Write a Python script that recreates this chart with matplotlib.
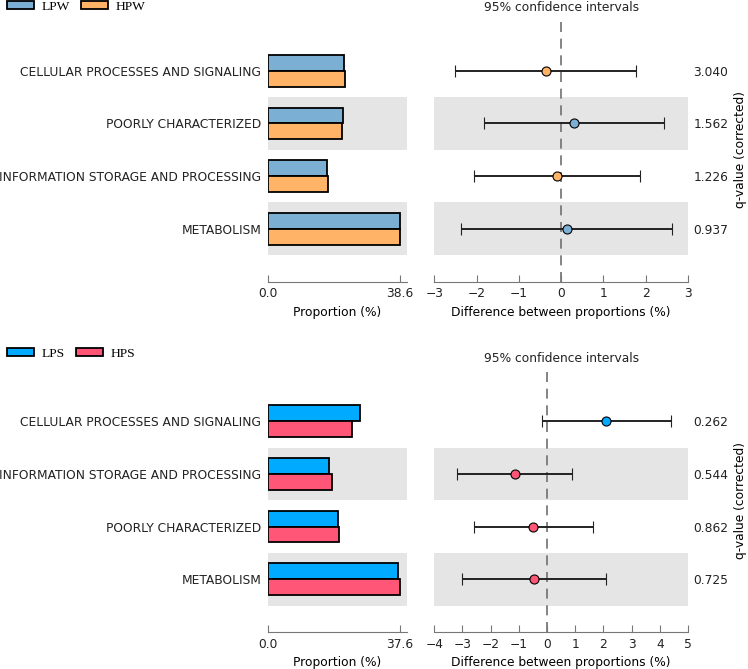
import matplotlib
matplotlib.use('Agg')
import matplotlib.pyplot as plt
from matplotlib.patches import Patch

# panneau du haut : LPW / HPW
cats_w = ['CELLULAR PROCESSES AND SIGNALING', 'POORLY CHARACTERIZED',
          'INFORMATION STORAGE AND PROCESSING', 'METABOLISM']
lpw = [22.2, 21.85, 17.3, 38.6]
hpw = [22.56, 21.54, 17.4, 38.47]
diff_w = [-0.36, 0.31, -0.10, 0.13]
low_w = [-2.51, -1.82, -2.06, -2.37]
high_w = [1.78, 2.44, 1.86, 2.63]
q_w = ['3.040', '1.562', '1.226', '0.937']

# panneau du bas : LPS / HPS
cats_s = ['CELLULAR PROCESSES AND SIGNALING', 'INFORMATION STORAGE AND PROCESSING',
          'POORLY CHARACTERIZED', 'METABOLISM']
lps = [26.1, 17.2, 19.8, 37.1]
hps = [24.0, 18.3, 20.2, 37.6]
diff_s = [2.10, -1.14, -0.49, -0.46]
low_s = [-0.19, -3.18, -2.60, -3.00]
high_s = [4.39, 0.90, 1.62, 2.08]
q_s = ['0.262', '0.544', '0.862', '0.725']

W, H = 748, 669
fig = plt.figure(figsize=(W / 100, H / 100), dpi=100)
plt.rcParams['font.size'] = 8.8


def style_axe(ax):
    for s in ['top', 'left', 'right']:
        ax.spines[s].set_visible(False)
    ax.spines['bottom'].set_color('#777777')
    ax.tick_params(axis='x', direction='in', length=5, color='#777777', labelcolor='#222222', pad=4)


def panneau(top_px, cats, g1, g2, c1, c2, diff, low, high, q, xlim_ci, xticks_ci, noms, leg_y):
    n = len(cats)
    ys = list(range(n - 1, -1, -1))  # premier en haut
    bottom = 1 - (top_px + 5 * 52.7) / H
    height = 5 * 52.7 / H
    ax1 = fig.add_axes([268.3 / W, bottom, (406.7 - 268.3) / W, height])
    ax2 = fig.add_axes([434.3 / W, bottom, (688 - 434.3) / W, height])

    # bandes grises
    for ax in (ax1, ax2):
        for y in ys:
            if y % 2 == 0:
                ax.axhspan(y - 0.5, y + 0.5, color='#e5e5e5', lw=0, zorder=0)

    # barres
    ax1.barh([y + 0.15 for y in ys], g1, height=0.3, color=c1, edgecolor='black', lw=1.3, zorder=2)
    ax1.barh([y - 0.15 for y in ys], g2, height=0.3, color=c2, edgecolor='black', lw=1.3, zorder=2)
    m = max(max(g1), max(g2))
    ax1.set_xlim(0, m * 1.05)
    ax1.set_xticks([0, m])
    ax1.set_xticklabels(['0.0', '%.1f' % m])
    ax1.set_ylim(-1, n)
    ax1.set_yticks(ys)
    ax1.set_yticklabels(cats)
    ax1.tick_params(axis='y', length=0, pad=5, labelcolor='#222222')
    ax1.set_xlabel('Proportion (%)', labelpad=4)
    style_axe(ax1)

    # intervalles de confiance
    ax2.axvline(0, color='#707070', ls=(0, (6, 4)), lw=1.2, zorder=1)
    for y, d, lo, hi in zip(ys, diff, low, high):
        col = c1 if d > 0 else c2
        ax2.errorbar(d, y, xerr=[[d - lo], [hi - d]], fmt='o', color='black', ecolor='#222222',
                     elinewidth=1.4, capsize=4, capthick=1.4, mfc=col, mec='black', ms=6.5,
                     mew=0.8, zorder=3)
    ax2.set_xlim(*xlim_ci)
    ax2.set_xticks(xticks_ci)
    ax2.set_xticklabels(['\u2212%d' % -t if t < 0 else '%d' % t for t in xticks_ci])
    ax2.set_ylim(-1, n)
    ax2.set_yticks([])
    ax2.set_xlabel('Difference between proportions (%)', labelpad=4)
    ax2.set_title('95% confidence intervals', fontsize=8.8, pad=5, color='#222222')
    style_axe(ax2)

    # q-values a droite
    ax3 = ax2.twinx()
    ax3.set_ylim(-1, n)
    ax3.set_yticks(ys)
    ax3.set_yticklabels(q)
    ax3.tick_params(axis='y', length=0, pad=4, labelcolor='#222222')
    ax3.set_ylabel('q-value (corrected)', labelpad=4)
    for s in ax3.spines.values():
        s.set_visible(False)

    # legende
    handles = [Patch(facecolor=c1, edgecolor='black', lw=1.3),
               Patch(facecolor=c2, edgecolor='black', lw=1.3)]
    fig.legend(handles, noms, loc='center left', bbox_to_anchor=(7 / W, 1 - leg_y / H),
               ncol=2, frameon=False, handlelength=2.0, handleheight=0.5, columnspacing=0.85,
               handletextpad=0.55, borderaxespad=0, borderpad=0,
               prop={'family': 'Liberation Serif', 'size': 9.7})


panneau(18, cats_w, lpw, hpw, '#7bafd4', '#ffb366', diff_w, low_w, high_w, q_w,
        (-3, 3), [-3, -2, -1, 0, 1, 2, 3], ['LPW', 'HPW'], 7)
panneau(368.5, cats_s, lps, hps, '#00aaff', '#ff5577', diff_s, low_s, high_s, q_s,
        (-4, 5), [-4, -3, -2, -1, 0, 1, 2, 3, 4, 5], ['LPS', 'HPS'], 354)

plt.savefig('out.png', dpi=100)
